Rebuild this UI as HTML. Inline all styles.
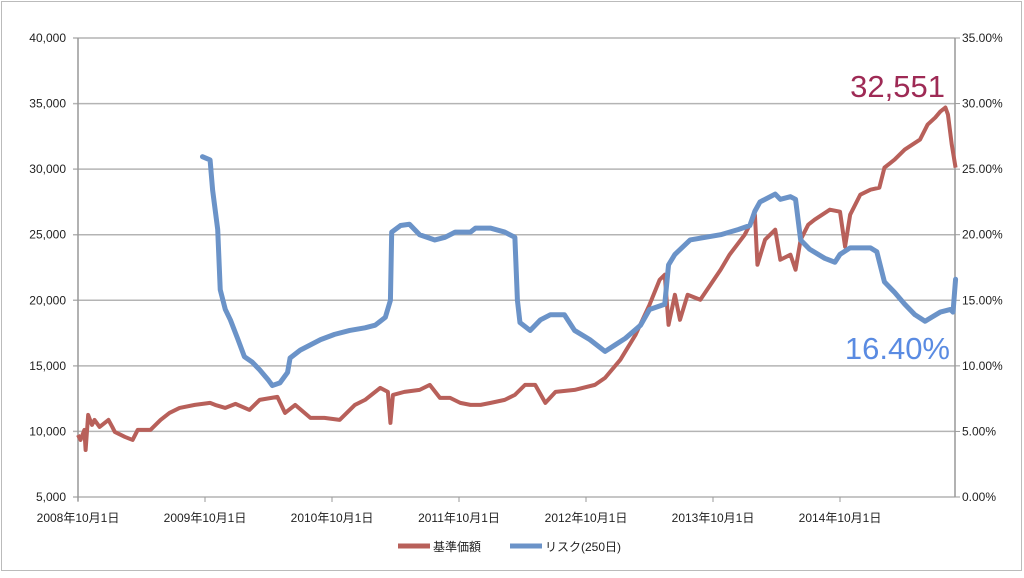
<!DOCTYPE html>
<html><head><meta charset="utf-8"><style>
html,body{margin:0;padding:0;background:#fff;}
svg text{font-family:"Liberation Sans","Noto Sans CJK JP",sans-serif;}
</style></head><body>
<svg id="chart" width="1024" height="573" xmlns="http://www.w3.org/2000/svg">
<rect x="1.5" y="1.5" width="1020" height="569" fill="#fff" stroke="#bbb"/>
<g id="grid"></g><g id="axes"></g><g id="series"></g>
<text x="945" y="97" text-anchor="end" font-size="31" fill="#9e2a55">32,551</text>
<text x="950" y="359" text-anchor="end" font-size="31" fill="#5a8be2">16.40%</text>
<g>
<line x1="398" y1="546" x2="430" y2="546" stroke="#b8605a" stroke-width="5"/>
<text x="433" y="551" font-size="12" fill="#222">基準価額</text>
<line x1="510" y1="546" x2="542" y2="546" stroke="#6b93c8" stroke-width="5"/>
<text x="545" y="551" font-size="12" fill="#222">リスク(250日)</text>
</g>
</svg>
<script>
const priceDates=[2008.75,2008.77,2008.80,2008.81,2008.83,2008.86,2008.88,2008.92,2008.99,2009.02,2009.04,2009.12,2009.18,2009.22,2009.32,2009.40,2009.47,2009.55,2009.67,2009.79,2009.83,2009.91,2009.99,2010.10,2010.18,2010.32,2010.38,2010.46,2010.58,2010.69,2010.81,2010.93,2011.01,2011.13,2011.19,2011.21,2011.23,2011.32,2011.44,2011.52,2011.60,2011.68,2011.76,2011.84,2011.92,2012.00,2012.11,2012.19,2012.27,2012.35,2012.43,2012.51,2012.66,2012.82,2012.90,2013.02,2013.14,2013.25,2013.33,2013.37,2013.40,2013.45,2013.49,2013.55,2013.65,2013.73,2013.81,2013.88,2014.00,2014.08,2014.10,2014.16,2014.24,2014.28,2014.36,2014.40,2014.44,2014.50,2014.55,2014.67,2014.75,2014.79,2014.83,2014.91,2014.99,2015.06,2015.10,2015.18,2015.26,2015.32,2015.38,2015.44,2015.50,2015.54,2015.58,2015.60,2015.63,2015.66];
const priceValues=[9733,9351,10115,8588,11260,10496,10878,10344,10878,10344,9962,9580,9351,10115,10115,10878,11413,11794,12023,12176,12023,11794,12100,11641,12405,12634,11413,12023,11031,11031,10878,12023,12405,13321,13016,10649,12787,13016,13168,13550,12558,12558,12176,12023,12023,12176,12405,12787,13550,13550,12176,13016,13168,13550,14084,15458,17367,19657,21566,21947,18130,20420,18512,20420,20039,21184,22329,23474,25001,26528,22711,24619,25383,23092,23474,22329,24619,25765,26147,26910,26757,24085,26528,28055,28436,28589,30116,30727,31490,31872,32254,33399,33933,34391,34697,34162,31872,30116];
const riskDates=[2009.73,2009.79,2009.81,2009.83,2009.85,2009.87,2009.91,2009.95,2010.01,2010.06,2010.12,2010.18,2010.25,2010.28,2010.34,2010.40,2010.42,2010.50,2010.58,2010.66,2010.77,2010.89,2011.01,2011.09,2011.17,2011.21,2011.22,2011.29,2011.36,2011.44,2011.56,2011.64,2011.72,2011.84,2011.88,2012.00,2012.11,2012.19,2012.21,2012.23,2012.31,2012.39,2012.47,2012.58,2012.66,2012.78,2012.90,2012.98,2013.06,2013.18,2013.25,2013.37,2013.40,2013.45,2013.57,2013.69,2013.81,2013.95,2014.04,2014.08,2014.12,2014.24,2014.28,2014.36,2014.40,2014.44,2014.51,2014.63,2014.71,2014.75,2014.83,2014.99,2015.04,2015.10,2015.18,2015.26,2015.34,2015.42,2015.47,2015.54,2015.62,2015.64,2015.66];
const riskValues=[25.95,25.7,23.4,21.9,20.4,15.8,14.3,13.5,12.0,10.7,10.3,9.7,8.9,8.5,8.7,9.5,10.6,11.2,11.6,12.0,12.4,12.7,12.9,13.1,13.7,15.0,20.2,20.7,20.8,20.0,19.6,19.8,20.2,20.2,20.5,20.5,20.2,19.8,15.0,13.3,12.7,13.5,13.9,13.9,12.7,12.0,11.1,11.6,12.1,13.1,14.3,14.7,17.7,18.5,19.6,19.8,20.0,20.4,20.7,21.8,22.5,23.1,22.7,22.9,22.7,19.6,18.9,18.2,17.9,18.5,19.0,19.0,18.7,16.4,15.6,14.7,13.9,13.4,13.7,14.1,14.3,14.1,16.6];
const leftTicks=[5000,10000,15000,20000,25000,30000,35000,40000];
const rightTicks=[0,5,10,15,20,25,30,35];
const xTickLabels=["2008年10月1日","2009年10月1日","2010年10月1日","2011年10月1日","2012年10月1日","2013年10月1日","2014年10月1日"];
const xTickYears=[2008.75,2009.75,2010.75,2011.75,2012.75,2013.75,2014.75];

const X0=78,X1=955,YT=38,YB=497;
const xS=t=>X0+(t-2008.75)*127;
const yL=v=>YB-(v-5000)/35000*(YB-YT);
const yR=v=>YB-v/35*(YB-YT);
const NS="http://www.w3.org/2000/svg";
function mk(tag,parent,attrs){const e=document.createElementNS(NS,tag);for(const k in attrs)e.setAttribute(k,attrs[k]);document.getElementById(parent).appendChild(e);return e;}
leftTicks.forEach((v,i)=>{
  const y=yL(v);
  const g=mk('line','grid',{x1:X0-5,x2:X1,y1:y,y2:y,stroke:'#b4b4b4','stroke-width':1.5});
  
  
  const t=mk('text','axes',{x:66,y:y+4,'text-anchor':'end','font-size':12,fill:'#222'});
  t.textContent=v.toLocaleString('en-US');
  
  
});
rightTicks.forEach(v=>{
  const y=yR(v);
  const tk=mk('line','axes',{x1:X1,x2:X1+5,y1:y,y2:y,stroke:'#999'});
  
  
  const t=mk('text','axes',{x:962,y:y+4,'font-size':12,fill:'#222'});
  t.textContent=v.toFixed(2)+'%';
  
  
});
const la=mk('line','axes',{x1:X0,x2:X0,y1:YT,y2:YB+4,stroke:'#999','stroke-width':1.5});


const ra=mk('line','axes',{x1:X1,x2:X1,y1:YT,y2:YB,stroke:'#999','stroke-width':1.5});


xTickYears.forEach((yr,i)=>{
  const x=xS(yr);
  const tk=mk('line','axes',{x1:x,x2:x,y1:YB,y2:YB+5,stroke:'#999'});
  
  
  const t=mk('text','axes',{x:x,y:522,'text-anchor':'middle','font-size':12,fill:'#222'});
  t.textContent=xTickLabels[i];
  
  
});
const pp=mk('polyline','series',{points:priceDates.map((d,i)=>xS(d)+','+yL(priceValues[i])).join(' '),fill:'none',stroke:'#b8605a','stroke-width':4,'stroke-linejoin':'round'});


const rp=mk('polyline','series',{points:riskDates.map((d,i)=>xS(d)+','+yR(riskValues[i])).join(' '),fill:'none',stroke:'#6b93c8','stroke-width':5,'stroke-linejoin':'round','stroke-linecap':'round'});


</script>
</body></html>
